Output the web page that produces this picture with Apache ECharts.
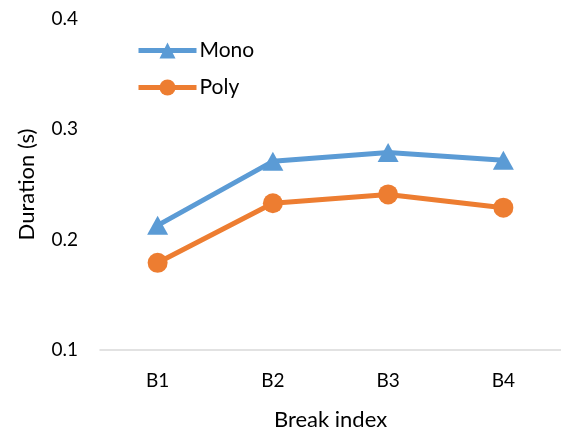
<!DOCTYPE html>
<html>
<head>
<meta charset="utf-8">
<script src="https://cdn.jsdelivr.net/npm/echarts@6/dist/echarts.min.js"></script>
<style>
  html, body { margin: 0; padding: 0; background: #fff; }
  #chart { width: 561px; height: 436px; }
</style>
</head>
<body>
<div id="chart"></div>
<script>
// Break positions and measured durations (seconds)
const categories = ['B1', 'B2', 'B3', 'B4'];
const monoValues = [0.213, 0.271, 0.279, 0.272];
const polyValues = [0.179, 0.233, 0.241, 0.229];
const yTicks = { min: 0.1, max: 0.4, interval: 0.1 };

const font = 'Lato, "Open Sans", sans-serif';
const chart = echarts.init(document.getElementById('chart'));

chart.setOption({
  animation: false,
  textStyle: { fontFamily: font },
  grid: { left: 100, right: 0, top: 19, bottom: 82 },
  legend: {
    orient: 'vertical',
    left: 131,
    top: 35,
    itemWidth: 58,
    itemHeight: 20,
    itemGap: 16,
    lineStyle: { width: 5 },
    textStyle: { fontSize: 21, color: '#000', fontFamily: font, padding: [0, 0, 0, -2] },
    data: ['Mono', 'Poly']
  },
  xAxis: {
    type: 'category',
    data: categories,
    boundaryGap: true,
    name: 'Break index',
    nameLocation: 'middle',
    nameGap: 59,
    nameTextStyle: { fontSize: 22, color: '#000', fontFamily: font },
    axisLine: { lineStyle: { color: '#d9d9d9', width: 1.5 } },
    axisTick: { show: false },
    axisLabel: { fontSize: 19, color: '#000', margin: 21, fontFamily: font }
  },
  yAxis: {
    type: 'value',
    min: yTicks.min,
    max: yTicks.max,
    interval: yTicks.interval,
    name: 'Duration (s)',
    nameLocation: 'middle',
    nameGap: 62,
    nameRotate: 90,
    nameTextStyle: { fontSize: 22, color: '#000', fontFamily: font },
    axisLine: { show: false },
    axisTick: { show: false },
    splitLine: { show: false },
    axisLabel: { fontSize: 19, color: '#000', margin: 22, fontFamily: font,
      formatter: v => v.toFixed(1) }
  },
  series: [
    {
      name: 'Mono',
      type: 'line',
      data: monoValues,
      symbol: 'triangle',
      symbolSize: [21, 19],
      color: '#5B9BD5',
      lineStyle: { width: 5, color: '#5B9BD5' },
      itemStyle: { color: '#5B9BD5' }
    },
    {
      name: 'Poly',
      type: 'line',
      data: polyValues,
      symbol: 'circle',
      symbolSize: 20,
      color: '#ED7D31',
      lineStyle: { width: 5, color: '#ED7D31' },
      itemStyle: { color: '#ED7D31' }
    }
  ]
});
</script>
</body>
</html>
